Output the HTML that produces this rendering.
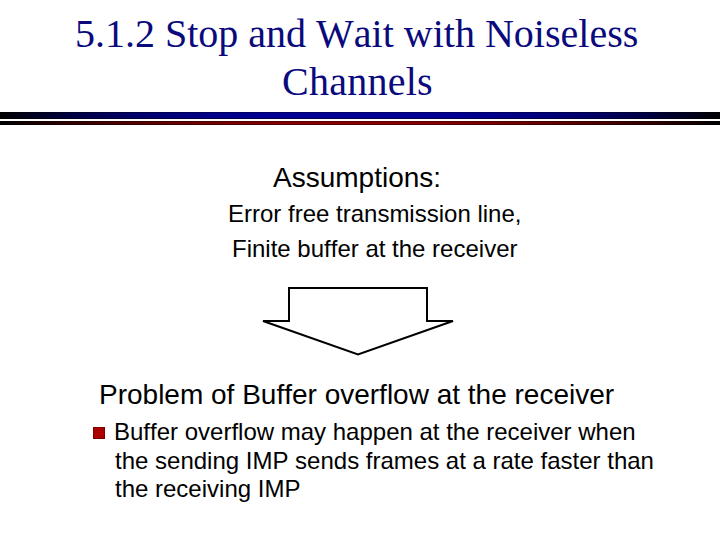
<!DOCTYPE html>
<html><head><meta charset="utf-8">
<style>
html,body{margin:0;padding:0;background:#fff;}
body{width:720px;height:540px;position:relative;overflow:hidden;font-family:"Liberation Sans",sans-serif;color:#000;}
.t{position:absolute;white-space:pre;line-height:1;font-variant-ligatures:none;font-kerning:none;}
.ti{font-family:"Liberation Serif",serif;font-size:40px;color:#0a0a7c;}
.s28{font-size:28px;}
.s24{font-size:24px;}
.bar{position:absolute;left:0;width:720px;}
</style></head><body>
<div class="t ti" id="l1" style="left:75px;top:13.5px;">5.1.2 Stop and Wait with Noiseless</div>
<div class="t ti" id="l2" style="left:282px;top:61.5px;letter-spacing:0.25px;">Channels</div>

<div class="bar" style="top:112px;height:7px;background:linear-gradient(to right,rgb(0,0,0) 0%,rgb(0,0,35) 5%,rgb(0,0,65) 10%,rgb(0,0,90) 15%,rgb(0,0,110) 20%,rgb(0,0,126) 25%,rgb(0,0,138) 30%,rgb(0,0,145) 35%,rgb(0,0,150) 40%,rgb(0,0,153) 45%,rgb(0,0,153) 50%,rgb(0,0,153) 55%,rgb(0,0,150) 60%,rgb(0,0,145) 65%,rgb(0,0,138) 70%,rgb(0,0,126) 75%,rgb(0,0,110) 80%,rgb(0,0,90) 85%,rgb(0,0,65) 90%,rgb(0,0,35) 95%,rgb(0,0,0) 100%);"></div>
<div class="bar" style="top:121px;height:4px;background:linear-gradient(to right,rgb(0,0,0) 0%,rgb(26,0,0) 5%,rgb(49,0,0) 10%,rgb(69,0,0) 15%,rgb(87,0,0) 20%,rgb(102,0,0) 25%,rgb(114,0,0) 30%,rgb(124,0,0) 35%,rgb(131,0,0) 40%,rgb(135,0,0) 45%,rgb(136,0,0) 50%,rgb(135,0,0) 55%,rgb(131,0,0) 60%,rgb(124,0,0) 65%,rgb(114,0,0) 70%,rgb(102,0,0) 75%,rgb(87,0,0) 80%,rgb(69,0,0) 85%,rgb(49,0,0) 90%,rgb(26,0,0) 95%,rgb(0,0,0) 100%);"></div>
<div class="bar" style="top:112px;height:1px;background:rgba(0,0,0,.35);"></div>
<div class="bar" style="top:118px;height:1px;background:rgba(0,0,0,.55);"></div>
<div class="bar" style="top:121px;height:1px;background:rgba(0,0,0,.35);"></div>
<div class="bar" style="top:124px;height:1px;background:rgba(0,0,0,.35);"></div>

<div class="t s28" id="a1" style="left:273px;top:163.5px;">Assumptions:</div>
<div class="t s24" id="a2" style="left:228px;top:202px;">Error free transmission line,</div>
<div class="t s24" id="a3" style="left:232px;top:237px;">Finite buffer at the receiver</div>

<svg style="position:absolute;left:0;top:0" width="720" height="540">
<polygon points="289,288 427,288 427,321 453,321 358,354.5 263,321 289,321" fill="none" stroke="#000" stroke-width="2"/>
</svg>

<div class="t s28" id="p1" style="left:99px;top:380.5px;">Problem of Buffer overflow at the receiver</div>
<div style="position:absolute;left:93px;top:427px;width:12px;height:12px;background:#aa0000;box-shadow:inset 0 0 0 1px #7a0000;"></div>
<div class="t s24" id="b1" style="left:114px;top:420px;">Buffer overflow may happen at the receiver when</div>
<div class="t s24" id="b2" style="left:115px;top:448.5px;">the sending IMP sends frames at a rate faster than</div>
<div class="t s24" id="b3" style="left:115px;top:477px;">the receiving IMP</div>
</body></html>
